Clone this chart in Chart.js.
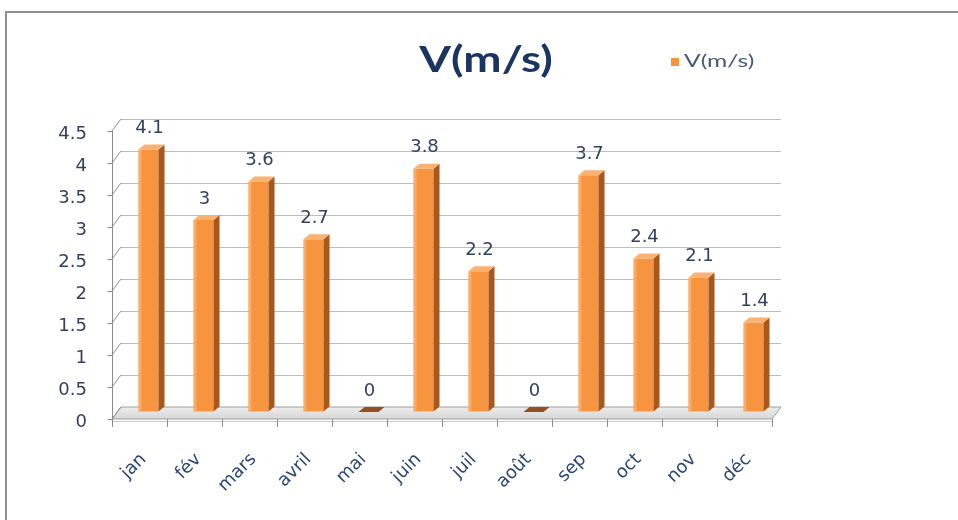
<!DOCTYPE html>
<html>
<head>
<meta charset="utf-8">
<title>V(m/s)</title>
<script src="https://cdn.jsdelivr.net/npm/chart.js@4/dist/chart.umd.min.js"></script>
<style>
  html, body { margin: 0; padding: 0; background: #ffffff; }
  #wrap { position: relative; width: 958px; height: 520px; overflow: hidden; }
  #frame { position: absolute; left: 5px; top: 11px; width: 1000px; height: 600px;
           border-left: 2px solid #8f8f8f; border-top: 2px solid #8f8f8f; }
  #c { position: absolute; left: 0; top: 0; }
</style>
</head>
<body>
<div id="wrap">
  <div id="frame"></div>
  <canvas id="c" width="958" height="520"></canvas>
</div>
<script>
// Monthly wind speed
const months = ['jan', 'fév', 'mars', 'avril', 'mai', 'juin', 'juil', 'août', 'sep', 'oct', 'nov', 'déc'];
const speeds = [4.1, 3, 3.6, 2.7, 0, 3.8, 2.2, 0, 3.7, 2.4, 2.1, 1.4];
const yMin = 0;
const yMax = 4.5;
const yStep = 0.5;
const seriesLabel = 'V(m/s)';
const chartTitle = 'V(m/s)';

// colours
const ORANGE = '#F7943F';
const ORANGE_SIDE = '#A9581D';
const ORANGE_TOP = '#FBB170';
const ORANGE_FLAT = '#95501F';
const NAVY = '#1C3560';
const TICK_TEXT = '#34415C';
const GRID = '#BDBDBD';
const AXIS = '#8C8C8C';

// plot box (back wall) and the pseudo-3D offsets
const wall = { left: 121, right: 781, top: 119, bottom: 407 };
const DEPTH_X = 9, DEPTH_Y = 12;   // back wall -> front edge of the floor
const BAR_DROP = 5;                 // bars stand a little in front of the wall
const SIDE_X = 6, SIDE_Y = 5;       // visible depth of each column

const threeD = {
  id: 'threeD',
  beforeDatasetsDraw(chart) {
    const { ctx } = chart;
    const x = chart.scales.x, y = chart.scales.y;
    const y0 = y.getPixelForValue(yMin);
    const yTop = y.getPixelForValue(yMax);
    const L = x.left, R = x.right;
    ctx.save();
    // floor
    const g = ctx.createLinearGradient(0, y0, 0, y0 + DEPTH_Y);
    g.addColorStop(0, '#EDEDED');
    g.addColorStop(1, '#D6D6D6');
    ctx.beginPath();
    ctx.moveTo(L, y0);
    ctx.lineTo(R, y0);
    ctx.lineTo(R - DEPTH_X, y0 + DEPTH_Y);
    ctx.lineTo(L - DEPTH_X, y0 + DEPTH_Y);
    ctx.closePath();
    ctx.fillStyle = g;
    ctx.fill();
    ctx.strokeStyle = '#9E9E9E';
    ctx.lineWidth = 1;
    ctx.stroke();
    // front edge shadow line
    ctx.beginPath();
    ctx.moveTo(L - DEPTH_X, y0 + DEPTH_Y + 2.5);
    ctx.lineTo(R - DEPTH_X, y0 + DEPTH_Y + 2.5);
    ctx.strokeStyle = '#C8C8C8';
    ctx.stroke();

    // front vertical axis, its slanted ticks and short outer ticks
    ctx.strokeStyle = AXIS;
    const fx = L - DEPTH_X + 0.5;
    ctx.beginPath();
    ctx.moveTo(fx, yTop + DEPTH_Y);
    ctx.lineTo(fx, y0 + DEPTH_Y + 5);
    ctx.stroke();
    y.ticks.forEach((t) => {
      const py = y.getPixelForValue(t.value);
      ctx.beginPath();
      ctx.moveTo(L - DEPTH_X, py + DEPTH_Y);
      ctx.lineTo(L, py);
      ctx.moveTo(fx - 5, py + DEPTH_Y + 0.5);
      ctx.lineTo(fx, py + DEPTH_Y + 0.5);
      ctx.stroke();
    });
    // category tick marks on the front edge
    const n = months.length;
    for (let i = 0; i <= n; i++) {
      let bx;
      if (i === 0) bx = L;
      else if (i === n) bx = R;
      else bx = (x.getPixelForValue(i - 1) + x.getPixelForValue(i)) / 2;
      ctx.beginPath();
      ctx.moveTo(bx - DEPTH_X + 0.5, y0 + DEPTH_Y);
      ctx.lineTo(bx - DEPTH_X + 0.5, y0 + DEPTH_Y + 8);
      ctx.stroke();
    }
    ctx.restore();
  },
  beforeDatasetDraw(chart) {
    chart.ctx.save();
    chart.ctx.translate(0, BAR_DROP);
  },
  afterDatasetDraw(chart) {
    chart.ctx.restore();
  },
  afterDatasetsDraw(chart) {
    const { ctx } = chart;
    const meta = chart.getDatasetMeta(0);
    const values = chart.data.datasets[0].data;
    ctx.save();
    meta.data.forEach((el, i) => {
      const w = el.width;
      const x0 = el.x - w / 2, x1 = el.x + w / 2;
      const top = el.y + BAR_DROP;
      const bottom = el.base + BAR_DROP;
      if (values[i] > 0) {
        // right side face
        ctx.beginPath();
        ctx.moveTo(x1, top);
        ctx.lineTo(x1 + SIDE_X, top - SIDE_Y);
        ctx.lineTo(x1 + SIDE_X, bottom - SIDE_Y);
        ctx.lineTo(x1, bottom);
        ctx.closePath();
        ctx.fillStyle = ORANGE_SIDE;
        ctx.fill();
        // top face
        ctx.beginPath();
        ctx.moveTo(x0, top);
        ctx.lineTo(x0 + SIDE_X, top - SIDE_Y);
        ctx.lineTo(x1 + SIDE_X, top - SIDE_Y);
        ctx.lineTo(x1, top);
        ctx.closePath();
        ctx.fillStyle = ORANGE_TOP;
        ctx.fill();
        // soft highlight on the left of the front face
        ctx.fillStyle = 'rgba(255,200,150,0.45)';
        ctx.fillRect(x0, top, 3, bottom - top);
      } else {
        // a zero value leaves only a flat lid on the floor
        ctx.beginPath();
        ctx.moveTo(x0, bottom);
        ctx.lineTo(x0 + SIDE_X, bottom - SIDE_Y);
        ctx.lineTo(x1 + SIDE_X, bottom - SIDE_Y);
        ctx.lineTo(x1, bottom);
        ctx.closePath();
        ctx.fillStyle = ORANGE_FLAT;
        ctx.fill();
      }
      // value label
      ctx.font = '18px "DejaVu Sans"';
      ctx.fillStyle = TICK_TEXT;
      ctx.textAlign = 'center';
      ctx.textBaseline = 'middle';
      ctx.fillText(String(values[i]), el.x + 1, top - 21);
    });
    ctx.restore();
  },
  afterDraw(chart) {
    const { ctx } = chart;
    ctx.save();
    // title
    ctx.translate(486, 60);
    ctx.scale(1.27, 1);
    ctx.font = 'bold 36px Lato';
    ctx.fillStyle = NAVY;
    ctx.textAlign = 'center';
    ctx.textBaseline = 'middle';
    ctx.fillText(chartTitle, 0, 0);
    ctx.restore();

    // legend
    ctx.save();
    ctx.fillStyle = chart.data.datasets[0].backgroundColor;
    ctx.fillRect(671, 58, 8, 8);
    ctx.translate(684, 62);
    ctx.scale(1.45, 1);
    ctx.font = '17px Lato';
    ctx.fillStyle = '#4A5878';
    ctx.textAlign = 'left';
    ctx.textBaseline = 'middle';
    ctx.fillText(chart.data.datasets[0].label, 0, 0);
    ctx.restore();
  }
};

new Chart(document.getElementById('c'), {
  type: 'bar',
  data: {
    labels: months,
    datasets: [{
      label: seriesLabel,
      data: speeds,
      backgroundColor: ORANGE,
      borderWidth: 0,
      categoryPercentage: 1,
      barPercentage: 0.364,
      clip: false
    }]
  },
  options: {
    responsive: false,
    animation: false,
    events: [],
    locale: 'en-US',
    layout: { padding: { top: wall.top, right: 958 - wall.right, left: 0, bottom: 0 } },
    plugins: {
      legend: { display: false },
      title: { display: false },
      tooltip: { enabled: false }
    },
    scales: {
      x: {
        grid: { display: false, drawTicks: false },
        border: { display: false },
        ticks: {
          autoSkip: false,
          minRotation: 45,
          maxRotation: 45,
          padding: 42,
          labelOffset: -5,
          color: '#2E4777',
          font: { family: 'DejaVu Sans', size: 18 }
        },
        afterFit(scale) { scale.height = 520 - wall.bottom; }
      },
      y: {
        min: yMin,
        max: yMax,
        grid: { color: GRID, drawTicks: false, lineWidth: 1 },
        border: { display: false },
        ticks: {
          stepSize: yStep,
          padding: 34,
          labelOffset: 15,
          color: TICK_TEXT,
          font: { family: 'DejaVu Sans', size: 18 },
          callback: (v) => String(v)
        },
        afterFit(scale) { scale.width = wall.left; }
      }
    }
  },
  plugins: [threeD]
});
</script>
</body>
</html>
